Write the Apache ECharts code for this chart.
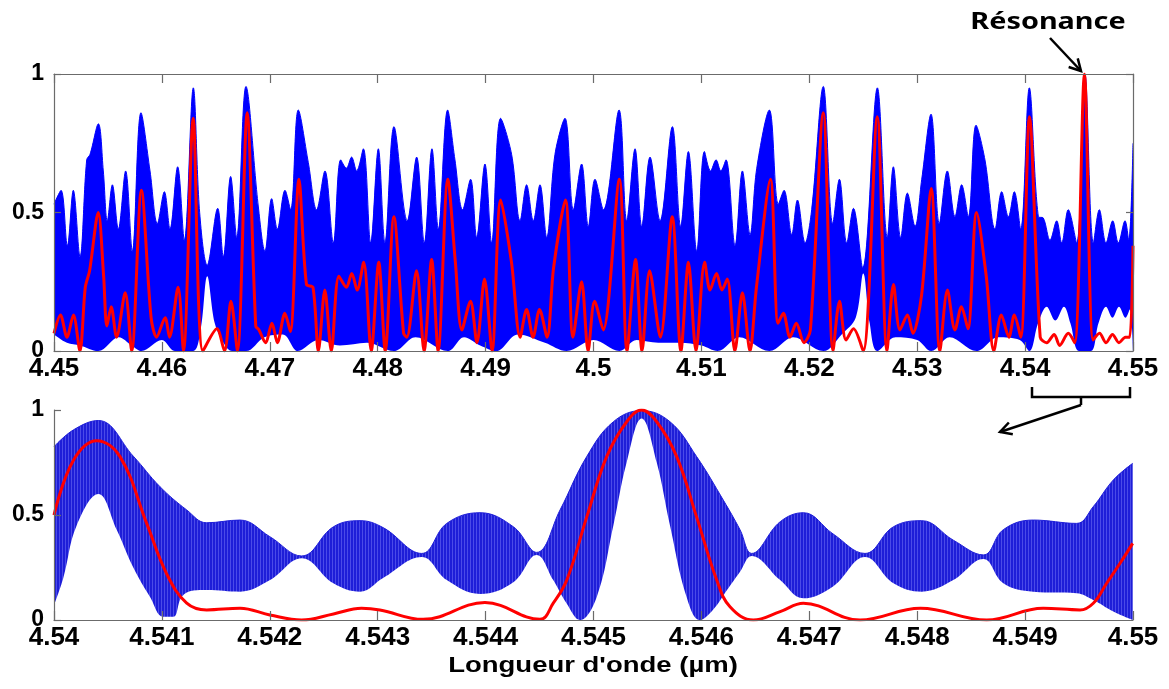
<!DOCTYPE html>
<html>
<head>
<meta charset="utf-8">
<script src="https://cdn.jsdelivr.net/npm/echarts@6/dist/echarts.min.js"></script>
<style>
  html, body { margin: 0; padding: 0; background: #fff; }
  #chart { width: 1169px; height: 689px; }
</style>
</head>
<body>
<div id="chart"></div>
<script>
// top panel, 4.45 - 4.55 µm : blue envelope (upper / lower) and red curve
const upperTop = [
  [4.45000,0.53],[4.45065,0.58],[4.45124,0.38],[4.45179,0.58],[4.45241,0.34],[4.45303,0.69],[4.45334,0.71],
  [4.45411,0.82],[4.45457,0.65],[4.45494,0.47],[4.45541,0.60],[4.45596,0.44],[4.45664,0.65],[4.45726,0.36],
  [4.45806,0.86],[4.45890,0.65],[4.45958,0.46],[4.46023,0.575],[4.46075,0.44],[4.46146,0.665],[4.46208,0.40],
  [4.46291,0.95],[4.46350,0.50],[4.46420,0.31],[4.46517,0.515],[4.46569,0.34],[4.46637,0.63],[4.46693,0.41],
  [4.46779,0.955],[4.46894,0.52],[4.46955,0.36],[4.47017,0.55],[4.47070,0.44],[4.47141,0.58],[4.47193,0.51],
  [4.47264,0.87],[4.47357,0.68],[4.47434,0.51],[4.47511,0.65],[4.47589,0.39],[4.47657,0.69],[4.47710,0.66],
  [4.47758,0.70],[4.47805,0.65],[4.47867,0.73],[4.47935,0.39],[4.48006,0.73],[4.48067,0.39],[4.48151,0.81],
  [4.48274,0.47],[4.48361,0.70],[4.48432,0.39],[4.48503,0.73],[4.48562,0.44],[4.48648,0.87],[4.48716,0.69],
  [4.48787,0.51],[4.48861,0.62],[4.48917,0.41],[4.48994,0.675],[4.49056,0.39],[4.49139,0.84],[4.49241,0.71],
  [4.49319,0.47],[4.49380,0.60],[4.49442,0.47],[4.49504,0.60],[4.49566,0.41],[4.49643,0.71],[4.49736,0.84],
  [4.49813,0.51],[4.49890,0.675],[4.49952,0.45],[4.50014,0.62],[4.50092,0.51],[4.50237,0.87],[4.50308,0.47],
  [4.50385,0.73],[4.50447,0.45],[4.50524,0.70],[4.50617,0.47],[4.50731,0.81],[4.50808,0.45],[4.50879,0.72],
  [4.50957,0.36],[4.51028,0.72],[4.51085,0.65],[4.51136,0.69],[4.51180,0.65],[4.51228,0.69],[4.51312,0.38],
  [4.51380,0.65],[4.51451,0.42],[4.51513,0.66],[4.51630,0.87],[4.51713,0.53],[4.51766,0.58],[4.51837,0.42],
  [4.51890,0.545],[4.51961,0.39],[4.52022,0.51],[4.52130,0.955],[4.52217,0.46],[4.52279,0.62],[4.52347,0.39],
  [4.52409,0.515],[4.52495,0.30],[4.52631,0.95],[4.52723,0.41],[4.52779,0.665],[4.52847,0.41],[4.52909,0.57],
  [4.52980,0.45],[4.53042,0.62],[4.53128,0.855],[4.53205,0.46],[4.53279,0.65],[4.53350,0.485],[4.53412,0.60],
  [4.53474,0.485],[4.53545,0.815],[4.53628,0.69],[4.53721,0.44],[4.53783,0.575],[4.53845,0.485],[4.53900,0.575],
  [4.53959,0.44],[4.54039,0.95],[4.54123,0.485],[4.54169,0.48],[4.54231,0.40],[4.54293,0.47],[4.54339,0.39],
  [4.54400,0.51],[4.54478,0.39],[4.54555,1.00],[4.54633,0.39],[4.54688,0.51],[4.54750,0.39],[4.54812,0.47],
  [4.54864,0.39],[4.54926,0.47],[4.54960,0.40],[4.55000,0.75]
];
const lowerTop = [
  [4.4500,0.06],[4.4512,0.03],[4.4524,0.02],[4.4541,0.0],[4.4560,0.05],[4.4572,0.02],[4.4581,0.0],[4.4600,0.04],
  [4.4612,0.0],[4.4629,0.0],[4.4636,0.08],[4.4642,0.27],[4.4649,0.10],[4.4657,0.03],[4.4665,0.0],[4.4678,0.0],
  [4.4695,0.05],[4.4712,0.06],[4.4726,0.0],[4.4745,0.04],[4.4765,0.02],[4.4790,0.03],[4.4815,0.0],[4.4835,0.05],
  [4.4865,0.0],[4.4880,0.05],[4.4895,0.02],[4.4910,0.0],[4.4930,0.06],[4.4955,0.03],[4.4975,0.0],[4.5000,0.04],
  [4.5024,0.0],[4.5040,0.04],[4.5060,0.03],[4.5080,0.03],[4.5100,0.02],[4.5115,0.0],[4.5135,0.05],[4.5163,0.0],
  [4.5185,0.05],[4.5213,0.0],[4.5230,0.06],[4.5243,0.12],[4.5250,0.28],[4.5256,0.10],[4.5263,0.0],[4.5280,0.05],
  [4.5300,0.04],[4.5313,0.0],[4.5330,0.05],[4.5355,0.0],[4.5375,0.05],[4.5395,0.04],[4.5404,0.0],[4.5412,0.10],
  [4.5420,0.16],[4.5428,0.11],[4.5436,0.16],[4.5442,0.10],[4.5450,0.0],[4.5461,0.0],[4.5468,0.10],[4.5475,0.16],
  [4.5481,0.12],[4.5487,0.16],[4.5493,0.12],[4.5497,0.15],[4.5500,0.0]
];
const redTop = [
  [4.4500,0.064],[4.4506,0.13],[4.4512,0.05],[4.4518,0.13],[4.4524,0.0],[4.4529,0.23],[4.4533,0.29],[4.4541,0.50],
  [4.4546,0.27],[4.4549,0.09],[4.4553,0.16],[4.4558,0.05],[4.4566,0.21],[4.4572,0.0],[4.4581,0.58],[4.4590,0.12],
  [4.4595,0.05],[4.4603,0.12],[4.4607,0.05],[4.4615,0.23],[4.4620,0.0],[4.4629,0.84],[4.4638,0.0],[4.4651,0.08],
  [4.4658,0.0],[4.4664,0.18],[4.4670,0.0],[4.4679,0.86],[4.4687,0.09],[4.4690,0.076],[4.4696,0.03],[4.4702,0.10],
  [4.4707,0.03],[4.4714,0.136],[4.4719,0.07],[4.4727,0.62],[4.4734,0.24],[4.4740,0.23],[4.4745,0.0],[4.4751,0.22],
  [4.4757,0.0],[4.4764,0.27],[4.4771,0.23],[4.4776,0.28],[4.4781,0.22],[4.4787,0.32],[4.4794,0.0],[4.4801,0.32],
  [4.4807,0.0],[4.4815,0.485],[4.4824,0.064],[4.4827,0.05],[4.4836,0.29],[4.4843,0.0],[4.4850,0.33],[4.4856,0.0],
  [4.4865,0.62],[4.4872,0.32],[4.4878,0.076],[4.4886,0.18],[4.4892,0.03],[4.4899,0.26],[4.4906,0.0],[4.4914,0.545],
  [4.4924,0.32],[4.4932,0.05],[4.4938,0.15],[4.4944,0.05],[4.4950,0.15],[4.4957,0.05],[4.4963,0.30],[4.4974,0.545],
  [4.4981,0.05],[4.4989,0.25],[4.4995,0.0],[4.5001,0.18],[4.5009,0.076],[4.5024,0.62],[4.5031,0.0],[4.5039,0.33],
  [4.5045,0.0],[4.5052,0.29],[4.5062,0.05],[4.5073,0.485],[4.5081,0.0],[4.5088,0.32],[4.5095,0.0],[4.5103,0.32],
  [4.5108,0.22],[4.5114,0.28],[4.5119,0.22],[4.5124,0.26],[4.5131,0.0],[4.5138,0.21],[4.5145,0.0],[4.5151,0.23],
  [4.5164,0.62],[4.5171,0.10],[4.5176,0.136],[4.5182,0.05],[4.5188,0.10],[4.5195,0.03],[4.5201,0.076],[4.5213,0.86],
  [4.5222,0.0],[4.5228,0.18],[4.5234,0.04],[4.5241,0.08],[4.5250,0.0],[4.5263,0.846],[4.5272,0.0],[4.5278,0.24],
  [4.5284,0.076],[4.5291,0.13],[4.5296,0.064],[4.5304,0.20],[4.5313,0.587],[4.5321,0.0],[4.5328,0.22],[4.5335,0.076],
  [4.5341,0.16],[4.5347,0.08],[4.5355,0.50],[4.5364,0.27],[4.5371,0.0],[4.5378,0.13],[4.5385,0.05],[4.5390,0.13],
  [4.5396,0.05],[4.5404,0.846],[4.5414,0.05],[4.5420,0.03],[4.5427,0.06],[4.5432,0.02],[4.5440,0.064],[4.5446,0.03],
  [4.5455,1.0],[4.5463,0.04],[4.5469,0.064],[4.5475,0.03],[4.5481,0.06],[4.5487,0.03],[4.5493,0.05],[4.5497,0.05],
  [4.5500,0.38]
];

// bottom panel, zoom on 4.54 - 4.55 µm
const upperBottom = [
  [4.540000,0.825],[4.540179,0.905],[4.540411,0.95],[4.540735,0.78],[4.540982,0.635],[4.541230,0.524],
  [4.541415,0.463],[4.541724,0.476],[4.542000,0.397],[4.542295,0.305],[4.542590,0.444],[4.542836,0.473],
  [4.543050,0.44],[4.543408,0.317],[4.543640,0.46],[4.543948,0.511],[4.544257,0.444],[4.544473,0.322],
  [4.544690,0.524],[4.544937,0.778],[4.545184,0.944],[4.545446,0.997],[4.545709,0.944],[4.545956,0.778],
  [4.546203,0.571],[4.546358,0.43],[4.546466,0.317],[4.546730,0.468],[4.546945,0.511],[4.547220,0.41],
  [4.547516,0.317],[4.547780,0.444],[4.548042,0.473],[4.548335,0.38],[4.548613,0.31],[4.548798,0.43],
  [4.549076,0.476],[4.549478,0.46],[4.549632,0.54],[4.549818,0.667],[4.549997,0.746]
];
const lowerBottom = [
  [4.540000,0.07],[4.540086,0.20],[4.540210,0.45],[4.540411,0.60],[4.540581,0.43],[4.540735,0.25],
  [4.540890,0.11],[4.541013,0.016],[4.541106,0.016],[4.541183,0.11],[4.541291,0.14],[4.541415,0.143],
  [4.541724,0.135],[4.542002,0.19],[4.542295,0.294],[4.542589,0.175],[4.542836,0.135],[4.543050,0.20],
  [4.543408,0.30],[4.543640,0.19],[4.543948,0.124],[4.544257,0.18],[4.544473,0.31],[4.544627,0.19],
  [4.544750,0.08],[4.544875,0.0],[4.545030,0.11],[4.545184,0.45],[4.545307,0.75],[4.545446,0.96],
  [4.545586,0.75],[4.545709,0.45],[4.545863,0.11],[4.545987,0.0],[4.546110,0.05],[4.546234,0.14],
  [4.546358,0.23],[4.546466,0.305],[4.546730,0.19],[4.546945,0.103],[4.547220,0.16],[4.547516,0.30],
  [4.547780,0.175],[4.548042,0.135],[4.548335,0.19],[4.548613,0.29],[4.548798,0.175],[4.549076,0.135],
  [4.549478,0.127],[4.549632,0.095],[4.549818,0.04],[4.549997,0.0]
];
const redBottom = [
  [4.540000,0.50],[4.540179,0.76],[4.540395,0.854],[4.540612,0.778],[4.540859,0.46],[4.541044,0.22],
  [4.541230,0.08],[4.541415,0.048],[4.541724,0.056],[4.542000,0.024],[4.542295,0.0],[4.542590,0.029],
  [4.542850,0.056],[4.543020,0.048],[4.543420,0.003],[4.543994,0.083],[4.544504,0.003],[4.544627,0.08],
  [4.544752,0.19],[4.544937,0.49],[4.545122,0.778],[4.545308,0.944],[4.545446,1.0],[4.545586,0.944],
  [4.545771,0.778],[4.545956,0.49],[4.546142,0.19],[4.546265,0.063],[4.546481,0.0],[4.546730,0.04],
  [4.546945,0.08],[4.547470,0.0],[4.548030,0.056],[4.548644,0.0],[4.549168,0.056],[4.549509,0.048],
  [4.549632,0.08],[4.549756,0.175],[4.549880,0.27],[4.549997,0.365]
];

const yTicks = [0, 0.5, 1];

const chart = echarts.init(document.getElementById('chart'));

// stripe pattern for the dense oscillation of the zoomed panel
const stripes = document.createElement('canvas');
stripes.width = 3;
stripes.height = 4;
const sctx = stripes.getContext('2d');
sctx.fillStyle = '#1e1ed8';
sctx.fillRect(0, 0, 2, 4);
sctx.fillStyle = '#4b4be8';
sctx.fillRect(2, 0, 1, 4);

const axisGray = '#6b6b6b';
const labelFont = 'Liberation Sans, Arial, sans-serif';

function xAxisFor(grid, min, max, interval, digits, position, showLabel) {
  return {
    type: 'value', gridIndex: grid, min: min, max: max, interval: interval, position: position,
    z: 10,
    axisLine: { show: true, onZero: false, lineStyle: { color: axisGray, width: 1.2 } },
    axisTick: { show: true, inside: true, length: 9, lineStyle: { color: axisGray, width: 1.2 } },
    axisLabel: {
      show: showLabel, margin: 5, color: '#000', fontSize: 26, fontWeight: 'bold', fontFamily: labelFont,
      showMinLabel: true, showMaxLabel: true,
      formatter: (v) => String(parseFloat(v.toFixed(digits)))
    },
    splitLine: { show: false }
  };
}
function yAxisFor(grid, position, showLabel) {
  return {
    type: 'value', gridIndex: grid, min: 0, max: 1, interval: 0.5, position: position,
    z: 10,
    axisLine: { show: true, onZero: false, lineStyle: { color: axisGray, width: 1.2 } },
    axisTick: { show: true, inside: true, length: 7, lineStyle: { color: axisGray, width: 1.2 } },
    axisLabel: {
      show: showLabel, margin: 10, color: '#000', fontSize: 23, fontWeight: 'bold', fontFamily: labelFont,
      formatter: (v) => String(yTicks.find((t) => Math.abs(t - v) < 1e-9))
    },
    splitLine: { show: false }
  };
}

function arrow(x1, y1, x2, y2) {
  const a = Math.atan2(y2 - y1, x2 - x1), L = 13, w = 0.5;
  return [
    { type: 'line', shape: { x1: x1, y1: y1, x2: x2, y2: y2 }, style: { stroke: '#000', lineWidth: 2.5 }, z: 50 },
    { type: 'polyline', z: 50,
      shape: { points: [[x2 - L * Math.cos(a - w), y2 - L * Math.sin(a - w)], [x2, y2],
                        [x2 - L * Math.cos(a + w), y2 - L * Math.sin(a + w)]] },
      style: { stroke: '#000', lineWidth: 2.5, fill: null } }
  ];
}

const option = {
  backgroundColor: '#fff',
  animation: false,
  grid: [
    { left: 54, top: 74, width: 1079, height: 277 },
    { left: 54, top: 410, width: 1079, height: 210 }
  ],
  xAxis: [
    xAxisFor(0, 4.45, 4.55, 0.01, 2, 'bottom', true),
    xAxisFor(0, 4.45, 4.55, 0.01, 2, 'top', false),
    xAxisFor(1, 4.54, 4.55, 0.001, 3, 'bottom', true)
  ],
  yAxis: [
    yAxisFor(0, 'left', true),
    yAxisFor(0, 'right', false),
    yAxisFor(1, 'left', true)
  ],
  series: [
    {
      type: 'line', xAxisIndex: 0, yAxisIndex: 0, data: upperTop, smooth: 0.35, showSymbol: false,
      lineStyle: { color: '#0000ff', width: 1 }, areaStyle: { color: '#0000ff', opacity: 1 }, z: 2
    },
    {
      type: 'line', xAxisIndex: 0, yAxisIndex: 0, data: lowerTop, smooth: 0.35, showSymbol: false,
      lineStyle: { width: 0 }, areaStyle: { color: '#ffffff', opacity: 1 }, z: 3
    },
    {
      type: 'line', xAxisIndex: 0, yAxisIndex: 0, data: redTop, smooth: 0.3, showSymbol: false,
      lineStyle: { color: '#ff0000', width: 3 }, z: 4
    },
    {
      type: 'line', xAxisIndex: 2, yAxisIndex: 2, data: upperBottom, smooth: 0.4, showSymbol: false,
      lineStyle: { color: '#1e1ed8', width: 1 }, areaStyle: { color: { image: stripes, repeat: 'repeat' }, opacity: 1 }, z: 2
    },
    {
      type: 'line', xAxisIndex: 2, yAxisIndex: 2, data: lowerBottom, smooth: 0.4, showSymbol: false,
      lineStyle: { width: 0 }, areaStyle: { color: '#ffffff', opacity: 1 }, z: 3
    },
    {
      type: 'line', xAxisIndex: 2, yAxisIndex: 2, data: redBottom, smooth: 0.4, showSymbol: false,
      lineStyle: { color: '#ff0000', width: 3 }, z: 4
    }
  ],
  graphic: [
    { type: 'text', x: 1048, y: 22, z: 50, scaleX: 1.2,
      style: { text: 'Résonance', fill: '#000', font: 'bold 24px "Noto Sans", sans-serif', align: 'center', verticalAlign: 'middle' } },
    ...arrow(1050, 38, 1081, 71),
    { type: 'polyline', z: 50, shape: { points: [[1032, 387], [1032, 397], [1130, 397], [1130, 387]] },
      style: { stroke: '#000', lineWidth: 2.5, fill: null } },
    { type: 'line', z: 50, shape: { x1: 1081, y1: 397, x2: 1081, y2: 405 }, style: { stroke: '#000', lineWidth: 2.5 } },
    ...arrow(1081, 405, 1000, 432),
    { type: 'text', x: 593, y: 666, z: 50, scaleX: 1.25,
      style: { text: "Longueur d'onde (µm)", fill: '#000', font: 'bold 22px "Liberation Sans", Arial, sans-serif', align: 'center', verticalAlign: 'middle' } }
  ]
};

chart.setOption(option);
</script>
</body>
</html>
